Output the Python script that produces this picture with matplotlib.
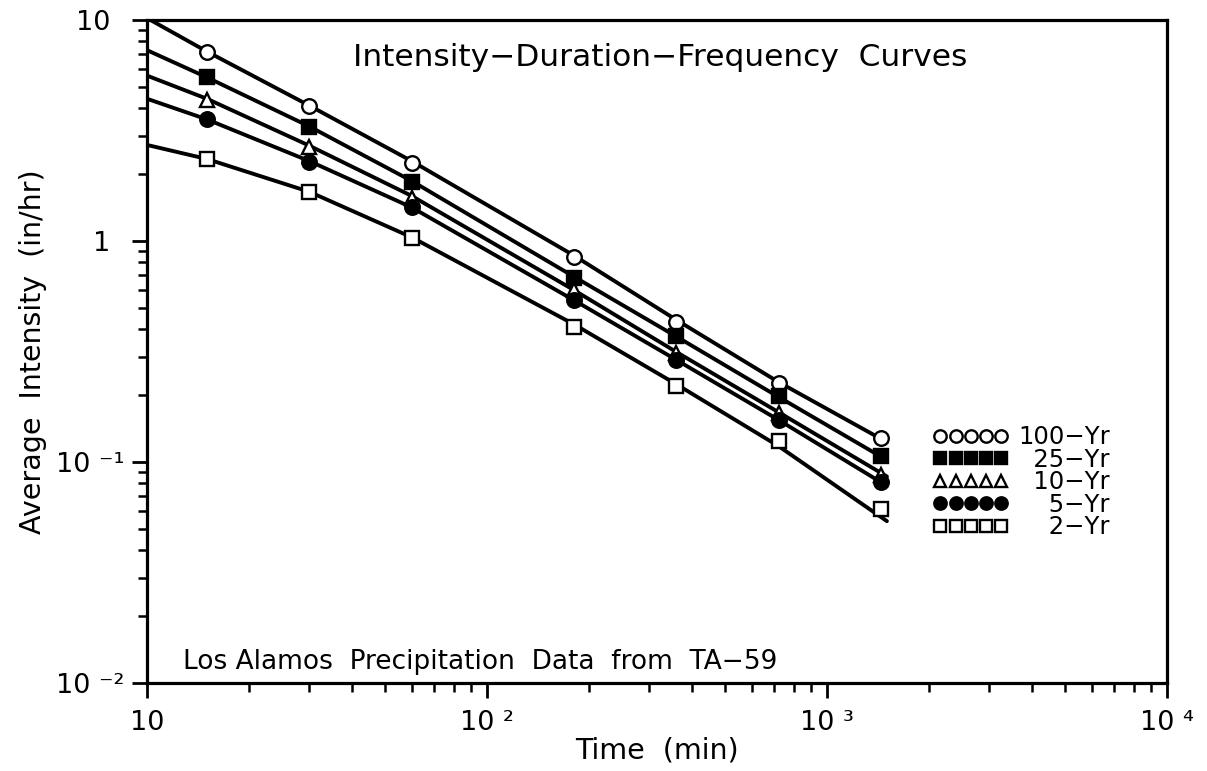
import matplotlib
matplotlib.use("Agg")
import matplotlib.pyplot as plt
from matplotlib.ticker import FixedLocator, FixedFormatter, LogLocator, NullFormatter

# ---- data ----
durations = [15, 30, 60, 180, 360, 720, 1440]          # min
obs_100 = [7.19, 4.08, 2.26, 0.85, 0.43, 0.228, 0.128]
obs_25 = [5.54, 3.28, 1.85, 0.68, 0.37, 0.198, 0.106]
obs_10 = [4.35, 2.67, 1.57, 0.60, 0.31, 0.166, 0.087]
obs_5 = [3.56, 2.28, 1.43, 0.54, 0.29, 0.155, 0.081]
obs_2 = [2.35, 1.67, 1.03, 0.41, 0.22, 0.124, 0.061]

curve_t = [10, 15, 30, 60, 180, 360, 720, 1500]
fit_100 = [10.2, 7.2, 4.1, 2.3, 0.86, 0.44, 0.23, 0.123]
fit_25 = [7.3, 5.5, 3.3, 1.87, 0.69, 0.37, 0.197, 0.102]
fit_10 = [5.6, 4.4, 2.7, 1.6, 0.60, 0.315, 0.168, 0.086]
fit_5 = [4.4, 3.55, 2.3, 1.42, 0.54, 0.29, 0.155, 0.078]
fit_2 = [2.72, 2.35, 1.67, 1.04, 0.42, 0.225, 0.118, 0.054]

labels = ["100\u2212Yr", "\u200725\u2212Yr", "\u200710\u2212Yr",
          "\u2007\u20075\u2212Yr", "\u2007\u20072\u2212Yr"]
x_tick_vals = [10, 100, 1000, 10000]
x_tick_labels = ["10", "10 \u00b2", "10 \u00b3", "10 \u2074"]
y_tick_vals = [0.01, 0.1, 1, 10]
y_tick_labels = ["10 \u207b\u00b2", "10 \u207b\u00b9", "1\u2002", "10\u2002"]

plt.rcParams['font.family'] = ['DejaVu Sans']

fig = plt.figure(figsize=(12.07, 7.71), dpi=100)
ax = fig.add_axes([0.1218, 0.1141, 0.8451, 0.8600])
ax.set_xscale('log')
ax.set_yscale('log')
ax.set_xlim(10, 10000)
ax.set_ylim(0.01, 10)

obs = [obs_100, obs_25, obs_10, obs_5, obs_2]
fits = [fit_100, fit_25, fit_10, fit_5, fit_2]
markers = ['o', 's', '^', 'o', 's']
faces = ['white', 'black', 'white', 'black', 'white']

handles = []
for o, f, m, fc, lab in zip(obs, fits, markers, faces, labels):
    ax.plot(curve_t, f, color='black', lw=2.8, solid_capstyle='round', zorder=2)
    h, = ax.plot(durations, o, linestyle='none', marker=m, markersize=10.5,
                 markerfacecolor=fc, markeredgecolor='black', markeredgewidth=1.7,
                 zorder=3, label=lab)
    handles.append(h)

leg = ax.legend(handles=handles, numpoints=5, loc='center left',
                bbox_to_anchor=(0.7706, 0.303), frameon=False, fontsize=17.5,
                markerscale=0.85, handlelength=3.1, handletextpad=0.4,
                labelspacing=-0.06, borderpad=0, borderaxespad=0)

ax.text(0.503, 0.943, "Intensity\u2212Duration\u2212Frequency  Curves",
        transform=ax.transAxes, ha='center', va='center', fontsize=22.5)
ax.text(0.035, 0.032, "Los Alamos  Precipitation  Data  from  TA\u221259",
        transform=ax.transAxes, ha='left', va='center', fontsize=19)

ax.xaxis.set_major_locator(FixedLocator(x_tick_vals))
ax.xaxis.set_major_formatter(FixedFormatter(x_tick_labels))
ax.yaxis.set_major_locator(FixedLocator(y_tick_vals))
ax.yaxis.set_major_formatter(FixedFormatter(y_tick_labels))
ax.xaxis.set_minor_locator(LogLocator(base=10, subs=range(2, 10)))
ax.yaxis.set_minor_locator(LogLocator(base=10, subs=range(2, 10)))
ax.xaxis.set_minor_formatter(NullFormatter())
ax.yaxis.set_minor_formatter(NullFormatter())

ax.tick_params(which='major', direction='out', length=10.5, width=2, labelsize=19.5,
               top=False, right=False)
ax.tick_params(which='minor', direction='out', length=6.5, width=1.8,
               top=False, right=False)
ax.tick_params(axis='x', which='major', pad=9)
ax.tick_params(axis='y', which='major', pad=6)

for s in ax.spines.values():
    s.set_linewidth(2.3)

ax.set_xlabel("Time  (min)", fontsize=20.5, labelpad=0)
ax.set_ylabel("Average  Intensity  (in/hr)", fontsize=20.5, labelpad=6)

fig.savefig("out.png", dpi=100)
